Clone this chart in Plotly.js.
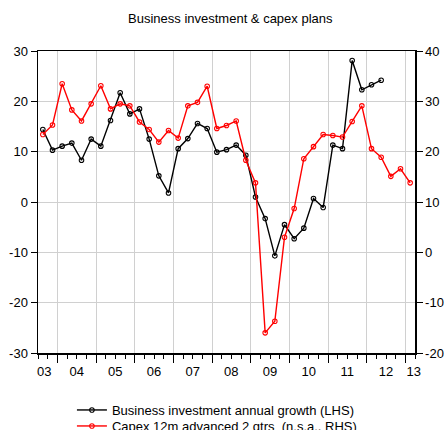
<!DOCTYPE html>
<html>
<head>
<meta charset="utf-8">
<script src="https://cdn.plot.ly/plotly-3.0.1.min.js"></script>
<style>html,body{margin:0;padding:0;background:#fff;}#chart{width:444px;height:430px;}</style>
</head>
<body>
<div id="chart"></div>
<script>
// Quarterly observations (2003Q3 .. 2013Q1)
const quarters = ["2003Q3","2003Q4","2004Q1","2004Q2","2004Q3","2004Q4","2005Q1","2005Q2","2005Q3","2005Q4",
  "2006Q1","2006Q2","2006Q3","2006Q4","2007Q1","2007Q2","2007Q3","2007Q4","2008Q1","2008Q2","2008Q3","2008Q4",
  "2009Q1","2009Q2","2009Q3","2009Q4","2010Q1","2010Q2","2010Q3","2010Q4","2011Q1","2011Q2","2011Q3","2011Q4",
  "2012Q1","2012Q2","2012Q3","2012Q4","2013Q1"];

// Business investment annual growth (LHS), 2003Q3 .. 2012Q2
const businessInvestment = [14.4,10.3,11.1,11.7,8.3,12.5,11.1,16.2,21.7,17.5,
  18.5,12.5,5.2,1.8,10.6,12.6,15.6,14.6,9.9,10.4,11.3,9.3,
  1.0,-3.3,-10.7,-4.5,-7.3,-5.2,0.7,-1.1,11.3,10.6,28.1,22.3,
  23.3,24.2];

// Capex 12m advanced 2 qtrs (RHS), 2003Q3 .. 2013Q1
const capexPlans = [23.4,25.3,33.5,28.3,26.1,29.5,33.1,28.5,29.5,29.1,
  25.9,24.4,21.9,24.2,22.7,29.1,29.8,33.0,24.6,25.2,26.1,18.3,
  13.8,-16.0,-13.7,3.0,8.7,18.6,21.0,23.4,23.2,22.9,26.0,29.1,
  20.6,18.9,15.1,16.6,13.8];

const yearLabels = ["03","04","05","06","07","08","09","10","11","12","13"];
const yearBoundaries = [2004,2005,2006,2007,2008,2009,2010,2011,2012,2013];
const labelPositions = [2003.66,2004.5,2005.5,2006.5,2007.5,2008.5,2009.5,2010.5,2011.5,2012.5,2013.22];
const lhsTicks = [-30,-20,-10,0,10,20,30];
const lhsTickText = ["-30","-20","-10","0","10","20","30"];
const rhsTicks = [-20,-10,0,10,20,30,40];
const rhsTickText = ["-20","-10","0","10","20","30","40"];

function qToX(q){ const y = parseInt(q.slice(0,4),10); const n = parseInt(q.slice(5),10); return y + (n-1)*0.25 + 0.125; }
const xs = quarters.map(qToX);

const font = {family: "Liberation Sans, Arial, sans-serif", size: 13, color: "#000"};
const xRange = [2003.5, 2013.25];

const traces = [
  {x: xs.slice(0, businessInvestment.length), y: businessInvestment, xaxis: "x", yaxis: "y", type: "scatter", mode: "lines+markers",
   name: "Business investment annual growth (LHS)", legend: "legend",
   line: {color: "#000000", width: 1.4},
   marker: {symbol: "circle-open", size: 4.5, color: "#000000", line: {width: 1.1, color: "#000000"}}},
  {x: xs.slice(0, capexPlans.length), y: capexPlans, xaxis: "x2", yaxis: "y2", type: "scatter", mode: "lines+markers",
   name: "Capex 12m advanced 2 qtrs  (n.s.a., RHS)", legend: "legend2",
   line: {color: "#ff0000", width: 1.4},
   marker: {symbol: "circle-open", size: 4.5, color: "#ff0000", line: {width: 1.1, color: "#ff0000"}}}
];

const legendBase = {orientation: "v", x: 0.09, xanchor: "left", yanchor: "middle",
           bgcolor: "rgba(0,0,0,0)", borderwidth: 0, font: font};

const layout = {
  width: 444, height: 430,
  margin: {l: 38, r: 29, t: 51, b: 77, pad: 0, autoexpand: false},
  paper_bgcolor: "#fff", plot_bgcolor: "#fff",
  font: font,
  showlegend: true,
  title: {text: "Business investment & capex plans", font: {family: font.family, size: 13, color: "#000"},
          x: 0.51, xref: "paper", xanchor: "center", y: 1 - 18/430, yref: "container", yanchor: "middle"},
  xaxis: {type: "linear", range: xRange, tickmode: "array", tickvals: yearBoundaries, showticklabels: false,
          ticks: "outside", ticklen: 8, tickwidth: 1, tickcolor: "#000",
          showgrid: true, gridcolor: "#d0d0d0", gridwidth: 1, zeroline: false,
          showline: true, linecolor: "#000", linewidth: 1.5, mirror: true,
          minor: {tickmode: "linear", tick0: 2003.5, dtick: 0.25, ticks: "outside", ticklen: 4, tickwidth: 1, tickcolor: "#000", showgrid: false}},
  xaxis2: {type: "linear", range: xRange, overlaying: "x", anchor: "y", side: "bottom",
           tickmode: "array", tickvals: labelPositions, ticktext: yearLabels,
           ticks: "outside", ticklen: 6, tickcolor: "rgba(0,0,0,0)", showgrid: false, zeroline: false, showline: false,
           tickfont: font},
  yaxis: {range: [-30, 30], tickmode: "array", tickvals: lhsTicks, ticktext: lhsTickText, ticks: "outside", ticklen: 6, tickcolor: "#000",
          showgrid: true, gridcolor: "#d0d0d0", gridwidth: 1, zeroline: false,
          showline: true, linecolor: "#000", linewidth: 1.5, tickfont: font},
  yaxis2: {range: [-20, 40], overlaying: "y", side: "right", anchor: "x", tickmode: "array", tickvals: rhsTicks, ticktext: rhsTickText,
           ticks: "outside", ticklen: 6, tickcolor: "#000", showgrid: false, zeroline: false,
           showline: true, linecolor: "#000", linewidth: 1.5, tickfont: font},
  legend: Object.assign({}, legendBase, {y: (353 - 410) / 302}),
  legend2: Object.assign({}, legendBase, {y: (353 - 426) / 302})
};

Plotly.newPlot("chart", traces, layout, {displayModeBar: false, staticPlot: true});
</script>
</body>
</html>
